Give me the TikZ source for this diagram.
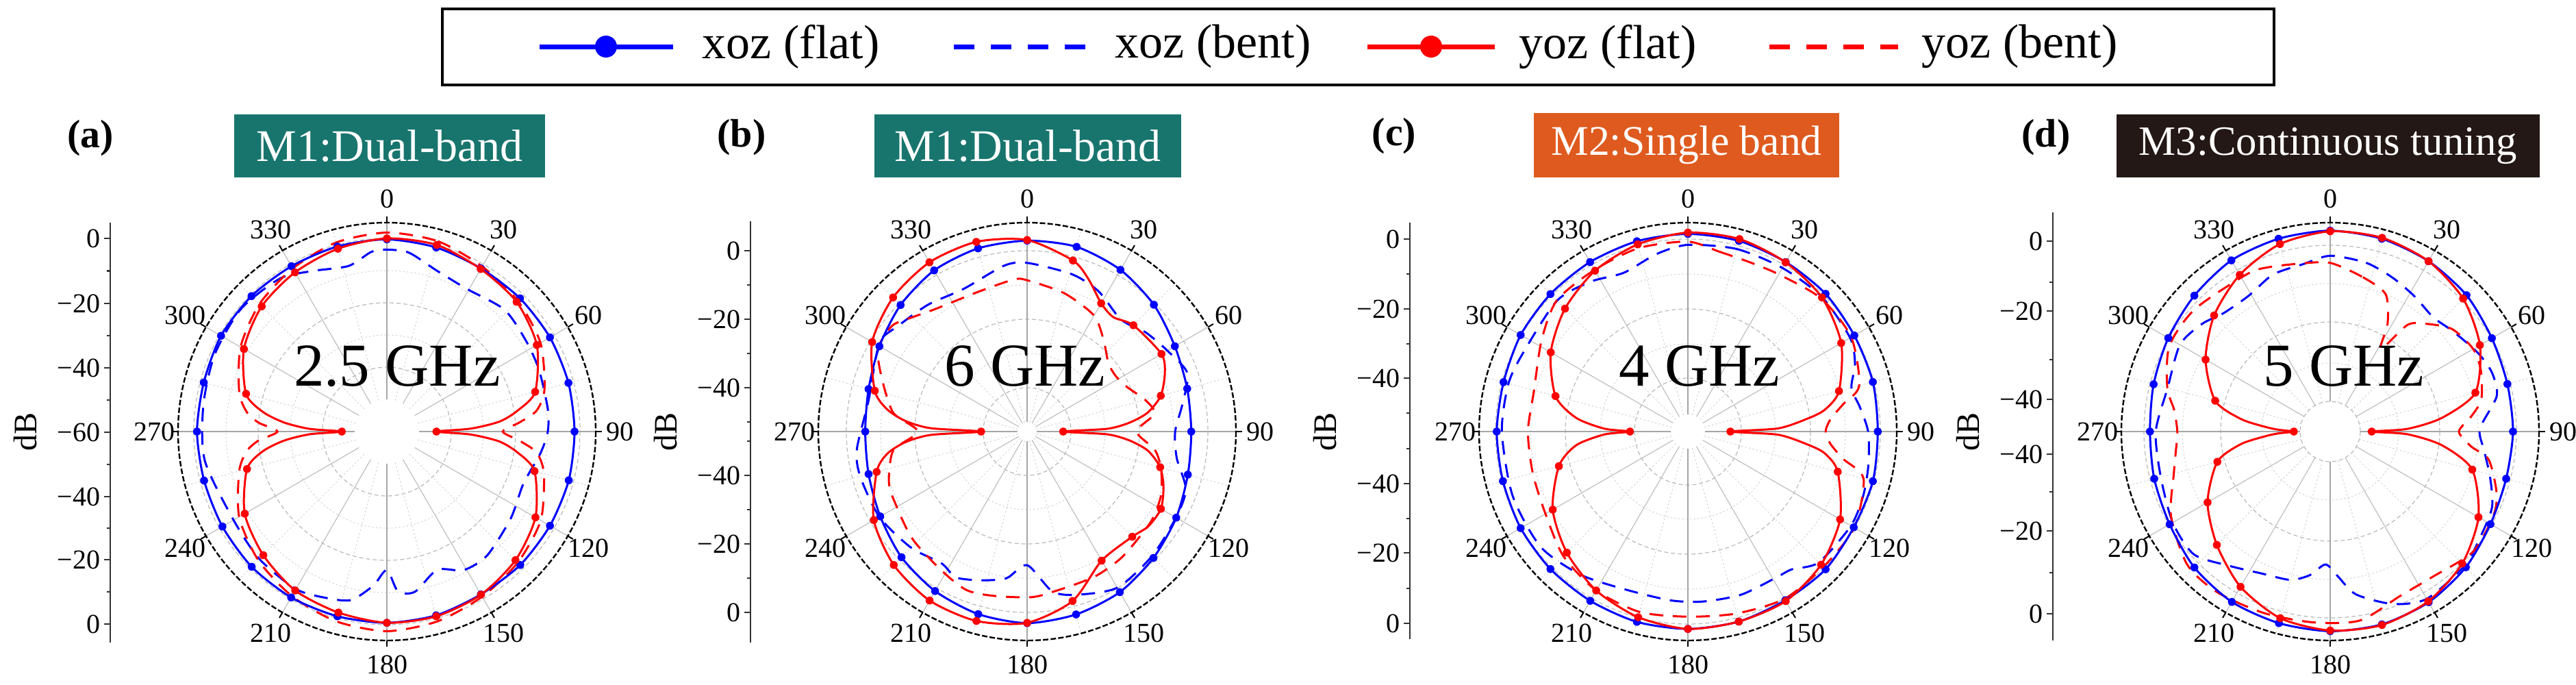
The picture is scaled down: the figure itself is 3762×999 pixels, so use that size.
\documentclass[tikz,border=0pt]{standalone}
\usepackage{fontspec}
\setmainfont{Liberation Serif}
\definecolor{cteal}{HTML}{18756E}
\definecolor{corange}{HTML}{DF5A1E}
\definecolor{cdark}{HTML}{231815}
\definecolor{cblue}{HTML}{0000FF}
\definecolor{cred}{HTML}{FF0000}
\tikzset{
 flatb/.style={cblue, line width=0.75pt},
 bentb/.style={cblue, line width=0.75pt, dash pattern=on 5pt off 3.5pt},
 flatr/.style={cred, line width=0.75pt},
 bentr/.style={cred, line width=0.75pt, dash pattern=on 5pt off 3.5pt},
 gridmajor/.style={gray!55, line width=0.3pt, dash pattern=on 1.5pt off 1pt},
 gridminor/.style={gray!35, line width=0.25pt, dash pattern=on 0.6pt off 0.8pt},
 spokeline/.style={gray!50, line width=0.3pt},
 spokeminor/.style={gray!35, line width=0.25pt, dash pattern=on 0.6pt off 0.8pt},
 axisspoke/.style={gray!70, line width=0.5pt},
 outerring/.style={black, line width=0.6pt, dash pattern=on 2pt off 0.8pt},
 tickst/.style={black, line width=0.5pt},
 anglab/.style={font=\fontsize{10}{12}\selectfont, inner sep=0pt},
 axlab/.style={font=\fontsize{10}{12}\selectfont, inner sep=0pt},
 dblab/.style={font=\fontsize{12}{14}\selectfont, inner sep=0pt},
 axisline/.style={black!80, line width=0.6pt},
 titlebox/.style={text=white, inner sep=0pt, font=\fontsize{16.5}{18}\selectfont},
 plab/.style={font=\fontsize{14.5}{16}\selectfont\bfseries, inner sep=0pt},
 freqlab/.style={font=\fontsize{22.25}{24}\selectfont, inner sep=0pt, anchor=base},
 legtext/.style={font=\fontsize{17.5}{20}\selectfont, inner sep=0pt, anchor=west},
 legbox/.style={black, line width=0.8pt},
}
% polar curve: #1 style, #2 centre, #3 list angle/dB
\newcommand\pcdraw[3]{\begin{scope}[shift={#3}]\draw[#2] plot[smooth cycle, tension=0.45] coordinates {#1};\end{scope}}
\newcommand\pcurve[3]{%
  \gdef\pcpts{}%
  \foreach \pa/\pd in #3 {\xdef\pcpts{\pcpts ({\pa-90}:{4.7*(60+(\pd))})}}%
  \expandafter\pcdraw\expandafter{\pcpts}{#1}{#2}}
\newcommand\pmarks[3]{\begin{scope}[shift={#2}]%
  \foreach \pa/\pd in #3 {\pgfmathtruncatemacro\pmk{mod(round(\pa*10),150)}%
   \ifnum\pmk=0 \fill[#1] ({\pa-90}:{4.7*(60+(\pd))}) circle (5.8);\fi}%
  \end{scope}}
% grid: #1 cx, #2 hole radius, #3 major radii, #4 minor radii, #5 prefix
\newcommand\pgrid[5]{\begin{scope}[shift={(#1,630)}]
 \foreach \r in {#4} {\draw[gridminor] (0,0) circle (\r);}
 \foreach \r in {#3} {\draw[gridmajor] (0,0) circle (\r);}
 \foreach \t in {15,45,...,345} {\draw[spokeminor] (\t:#2) -- (\t:305);}
 \foreach \t in {30,60,120,150,210,240,300,330} {\draw[spokeline] (\t:#2) -- (\t:305);}
 \foreach \t in {0,90,180,270} {\draw[axisspoke] (\t:#2) -- (\t:305);}
 \draw[outerring] (0,0) circle (305);
 \foreach \t in {0,30,...,330} {\draw[tickst] (\t:305) -- (\t:314);}
 \foreach \t in {0,30,...,330} {\node[anglab] (#5ang\t) at ({\t-90}:340) {\t};}
\end{scope}}
% axis: #1 x, #2 top, #3 bottom, #4 majors y/label, #5 minors, #6 prefix
\newcommand\daxis[6]{%
 \draw[axisline] (#1,#2) -- (#1,#3);
 \foreach \yy/\ll in {#4} {\draw[axisline] (#1,\yy) -- ++(-9,0);
   \node[axlab, anchor=east] (#6ax\yy) at ({#1-14},\yy) {\ll};}
 \foreach \yy in {#5} {\draw[axisline] (#1,\yy) -- ++(-5,0);}
 \node[dblab, rotate=90] (#6db) at ({#1-124},630) {dB};}

% ---------------- data ----------------
\def\Abf{0/-0.3, 15/-0.8, 30/-1.5, 45/-1.5, 60/-1.5, 75/-1.6, 90/-1.7, 105/-1.5, 120/-1.5, 135/-1.4, 150/-1.6, 165/-0.9, 180/-0.6, 195/-0.6, 210/-0.5, 225/-0.6, 240/-1, 255/-1.2, 270/-1, 285/-1.1, 300/-0.5, 315/-0.5, 330/-0.7, 345/-0.5}
\def\Arf{0/0, 15/0, 30/-1.7, 45/-3, 60/-6.2, 75/-12.3, 81/-19, 85/-25, 88/-34, 90/-44.6, 92/-34, 95/-25, 99/-19, 105/-12.5, 120/-6.7, 135/-3.5, 150/-1.5, 165/-0.6, 180/-0.6, 195/-1.8, 210/-3, 225/-5.7, 240/-9, 255/-15, 261/-21, 265/-28, 268/-36, 270/-46, 272/-36, 275/-28, 279/-21, 285/-14.7, 300/-8.7, 315/-5, 330/-2.9, 345/-1.2}
\def\Arb{0/1.8, 15/1.2, 30/-0.8, 45/-2.5, 60/-4.9, 75/-9.3, 82/-13, 86/-18.6, 90/-24, 94/-18.6, 98/-13, 105/-9.5, 120/-4.8, 135/-2.5, 150/-0.8, 165/1, 180/2, 195/1, 210/-1, 225/-3.5, 240/-7, 255/-12.5, 262/-16, 266/-20, 270/-26, 274/-20, 278/-16, 285/-12.5, 300/-7.5, 315/-4, 330/-1.5, 345/0.8}
\def\Abb{0/-3.5, 7/-4, 17/-7.6, 29/-9.2, 44/-7.4, 57/-8.4, 68/-9, 82/-9.5, 90/-10, 98/-11.8, 111/-14.6, 125/-13, 141/-10.5, 151/-10.8, 160/-14.3, 170/-9.5, 176/-10.2, 180/-17, 185/-12, 192/-6.5, 200/-5, 210/-3.5, 225/-4, 240/-5, 261/-2.7, 278/-2.4, 294/-1.4, 310/-0.8, 325/-2, 335/-5, 347/-7.2, 355/-4}

\def\Bbf{0/-0.7, 15/-0.6, 30/-2, 45/-4.3, 60/-7, 75/-8.5, 90/-9, 105/-8.3, 120/-6.5, 135/-4.5, 150/-2.4, 165/-1.2, 180/-0.5, 195/-1.3, 210/-2.8, 225/-4.8, 240/-7.3, 255/-9, 270/-9.7, 285/-9, 300/-7, 315/-4.4, 330/-2.2, 345/-1.1}
\def\Brf{0/-0.5, 15/-5, 22/-9, 30/-14, 37/-15.5, 45/-13.3, 60/-11.8, 67/-13.5, 75/-17, 81/-22, 85/-28, 88/-35, 90/-48.8, 92/-35, 95/-28, 99/-22, 105/-17.2, 112/-14.3, 120/-12, 128/-12.2, 135/-13.8, 150/-13.7, 165/-5.5, 180/-0.6, 195/0.9, 210/0.6, 225/-1.4, 240/-5, 255/-11.6, 261/-16, 265/-22, 268/-30, 270/-45.7, 272/-30, 275/-22, 279/-16, 285/-11, 300/-4.4, 315/-1.1, 330/0.7, 345/1}
\def\Brb{0/-13, 15/-15.5, 30/-18.4, 40/-23, 50/-27, 58/-27.5, 66/-26, 75/-22, 82/-20, 90/-26, 98/-20, 105/-17, 115/-14, 125/-12.5, 135/-12, 144/-11, 155/-10.3, 169/-9.8, 180/-8.5, 201/-7.3, 225/-11, 242/-13.4, 250/-14.3, 262/-18, 270/-26, 278/-18, 290/-12, 299/-7, 308/-6.7, 314/-9.3, 323/-12.4, 341/-14, 355/-12.6}
\def\Bbb{0/-7.6, 16/-9.2, 27/-11.1, 40/-14.6, 50/-12, 60/-9.7, 70/-7, 80/-11, 90/-14, 100/-12.8, 110/-7.5, 120/-6.6, 135/-5.2, 150/-4, 163/-7, 171/-9.7, 180/-18.5, 188/-14, 197/-11.7, 206/-9.6, 213/-11.2, 225/-9, 240/-7, 255/-6.3, 264/-6.8, 281/-9.8, 293/-8.4, 302/-6.3, 309/-8.1, 322/-10, 336/-11.5, 352/-8}

\def\Cbf{0/1.4, 15/1.3, 30/0.8, 45/0.5, 60/-0.3, 75/-0.5, 90/-1, 105/-0.5, 120/-0.5, 135/0.5, 150/0.5, 165/1.1, 180/1.3, 195/1.2, 210/0.7, 225/0.4, 240/0, 255/-0.5, 270/-0.6, 285/-0.7, 300/0, 315/0.4, 330/0.8, 345/1.2}
\def\Crf{0/1.8, 15/1.9, 30/0.7, 45/-1.1, 60/-5, 75/-11.4, 81/-17, 84/-23, 88/-32, 90/-46.8, 92/-32, 96/-23, 99/-17, 105/-11.8, 120/-5.4, 135/-1.5, 150/0.8, 165/1.1, 180/1.3, 195/-0.3, 210/-3, 225/-6.8, 240/-11.5, 255/-18.5, 263/-25, 268/-34, 270/-42, 272/-34, 277/-25, 285/-17.4, 300/-10.8, 315/-6, 330/-2.3, 345/0.2}
\def\Crb{0/-1, 10/-3.3, 20/-4, 30/-3.6, 45/-1.5, 60/-1.4, 75/-4.9, 80/-11, 85/-15.5, 90/-17.2, 95/-15.5, 100/-11, 105/-3.5, 120/-0.3, 135/-0.5, 150/0, 165/-1.5, 180/-2.5, 195/-2, 210/-3, 225/-5.3, 240/-8.9, 255/-10.1, 270/-10.3, 285/-10.5, 302/-6.4, 315/-2.4, 330/-2, 345/-1}
\def\Cbb{0/-2, 15/-1.3, 30/-1.3, 45/-1, 60/-1.8, 68/-4, 75/-7.4, 82/-6, 90/-4, 100/-3, 110/-2, 120/-1.5, 135/-2.5, 143/-6.4, 149/-7, 162/-6.7, 175/-7, 186/-7.3, 202/-7.2, 217/-4.4, 232/-1.9, 250/-2, 270/-2.2, 285/-2.3, 296/-3.3, 315/-2.5, 327/-4.5, 338/-6.8, 350/-4}

\def\Dbf{0/2.4, 15/2, 30/1.1, 45/-0.1, 60/-2, 75/-3, 90/-3.2, 105/-3.4, 120/-2.5, 135/-0.4, 150/1.2, 165/2, 180/2, 195/1.6, 210/1.1, 225/-0.3, 240/-2.4, 255/-3.4, 270/-4, 285/-3.2, 300/-1.9, 315/-0.3, 330/1.4, 345/2}
\def\Drf{0/2.2, 15/2.3, 30/1.1, 45/-1.6, 60/-6.3, 75/-13.3, 83/-25, 88/-36, 90/-47.1, 92/-36, 97/-25, 105/-14.3, 120/-6.8, 135/-2, 150/0.9, 165/2.2, 180/1.8, 195/0, 210/-4.3, 225/-10.2, 240/-16, 255/-23.7, 262/-32, 266/-40, 268/-44, 270/-48.7, 272/-44, 274/-40, 278/-32, 285/-23, 300/-15.3, 315/-9, 330/-3.8, 345/0.3}
\def\Drb{0/-7.6, 12/-11, 22/-14, 28/-22, 31.5/-30, 36/-19, 42/-15, 50/-10.5, 60/-8.7, 68/-9.5, 78/-12, 84/-16, 90/-20, 96/-16, 100/-10, 110/-5, 117/-3, 130/-2, 145/-4.8, 157/-4.5, 171/-0.6, 185/-0.5, 200/0, 215/1, 227/0.7, 242/-4, 255/-9.7, 262/-11.5, 270/-12.5, 278/-11, 285/-7.6, 298/-3.4, 312/-3.3, 332/-4.7, 339/-5.4, 350/-7}
\def\Dbb{0/-5.4, 12/-6.4, 22/-8.4, 32/-10.5, 42/-12.2, 51/-10.7, 62/-8, 70/-6.5, 78/-7.1, 89/-13.5, 97/-11.8, 106/-8.3, 115/-4.5, 125/-3, 135/-1, 150/0, 160/-3, 171/-8.8, 177/-15, 182/-18.7, 188/-15, 195/-12.3, 206/-11, 217/-7.8, 228/-3, 240/-3.5, 255/-5.5, 270/-5.8, 285/-7.7, 300/-6.1, 310/-8, 318/-10.5, 329/-10.8, 340/-8.1, 351/-7.3}

\newcommand\panelcurves[5]{% #1 centre, #2 bf, #3 bb, #4 rf, #5 rb
  \pcurve{bentb}{#1}{#3}\pcurve{bentr}{#1}{#5}%
  \pcurve{flatb}{#1}{#2}\pcurve{flatr}{#1}{#4}%
  \pmarks{cblue}{#1}{#2}\pmarks{cred}{#1}{#4}}

\begin{document}
\begin{tikzpicture}[x=0.25pt,y=-0.25pt]
\useasboundingbox (0,0) rectangle (3762,999);
\fill[white] (0,0) rectangle (3762,999);

% ---------- legend ----------
\draw[legbox] (646,13) rectangle (3321,124);
\coordinate (lb1s) at (788,68); \coordinate (lb1e) at (983,68);
\draw[cblue, line width=1.75pt] (lb1s) -- (lb1e);
\fill[cblue] (885,68) circle (16);
\node[legtext] (lt1) at (1025,68) {xoz (flat)};
\coordinate (lb2s) at (1393,68); \coordinate (lb2e) at (1586,68);
\draw[cblue, line width=1.75pt, dash pattern=on 7.5pt off 6pt] (lb2s) -- (lb2e);
\node[legtext] (lt2) at (1628,68) {xoz (bent)};
\coordinate (lb3s) at (1997,68); \coordinate (lb3e) at (2183,68);
\draw[cred, line width=1.75pt] (lb3s) -- (lb3e);
\fill[cred] (2090,68) circle (16);
\node[legtext] (lt3) at (2218,68) {yoz (flat)};
\coordinate (lb4s) at (2584,68); \coordinate (lb4e) at (2772,68);
\draw[cred, line width=1.75pt, dash pattern=on 7.5pt off 6pt] (lb4s) -- (lb4e);
\node[legtext] (lt4) at (2806,68) {yoz (bent)};

% ---------- titles ----------
\node[plab] (pa) at (132,202) {(a)};
\node[plab] (pb) at (1083,201) {(b)};
\node[plab] (pc) at (2036,199) {(c)};
\node[plab] (pd) at (2988,201) {(d)};
\node[titlebox, fill=cteal, minimum width=113.5pt, minimum height=23pt] (ta) at (569,213) {M1:Dual-band};
\node[titlebox, fill=cteal, minimum width=112pt, minimum height=23pt] (tb) at (1501,213) {M1:Dual-band};
\node[titlebox, fill=corange, minimum width=111.5pt, minimum height=23.5pt, font=\fontsize{15.4}{17}\selectfont] (tc) at (2463,212) {M2:Single band};
\node[titlebox, fill=cdark, minimum width=154.5pt, minimum height=23pt, font=\fontsize{15.2}{17}\selectfont] (td) at (3400,212.5) {M3:Continuous tuning};

% ---------- panel (a) ----------
\pgrid{565}{47}{282,188,94}{235,141}{a}
\daxis{161}{325}{938}{348/0,443/−20,537/−40,631/−60,725/−40,817/−20,911/0}{395.5,490,584,678,771,864}{a}
\panelcurves{(565,630)}{\Abf}{\Abb}{\Arf}{\Arb}
\node[freqlab] (fa) at (580,563) {2.5 GHz};

% ---------- panel (b) ----------
\pgrid{1500}{14}{264,164,64}{214,114}{b}
\daxis{1096}{323}{938}{366/0,466/−20,566/−40,694/−40,794/−20,894/0}{416,516,616,644,744,844}{b}
\panelcurves{(1500,630)}{\Bbf}{\Bbb}{\Brf}{\Brb}
\node[freqlab] (fb) at (1497,563) {6 GHz};

% ---------- panel (c) ----------
\pgrid{2465}{25}{281,179,78}{230,128}{c}
\daxis{2059}{325}{933}{349/0,451/−20,552/−40,706/−40,807/−20,910/0}{400,502,603,655,757,859}{c}
\panelcurves{(2465,630)}{\Cbf}{\Cbb}{\Crf}{\Crb}
\node[freqlab] (fc) at (2482,563) {4 GHz};

% ---------- panel (d) ----------
\pgrid{3403}{44}{272,160,44}{216,100}{d}
\daxis{2998}{310}{935}{352/0,454/−20,583/−40,663/−40,775/−20,896/0}{412,525,718,836}{d}
\panelcurves{(3403,630)}{\Dbf}{\Dbb}{\Drf}{\Drb}
\node[freqlab] (fd) at (3423,563) {5 GHz};
\end{tikzpicture}
\end{document}
